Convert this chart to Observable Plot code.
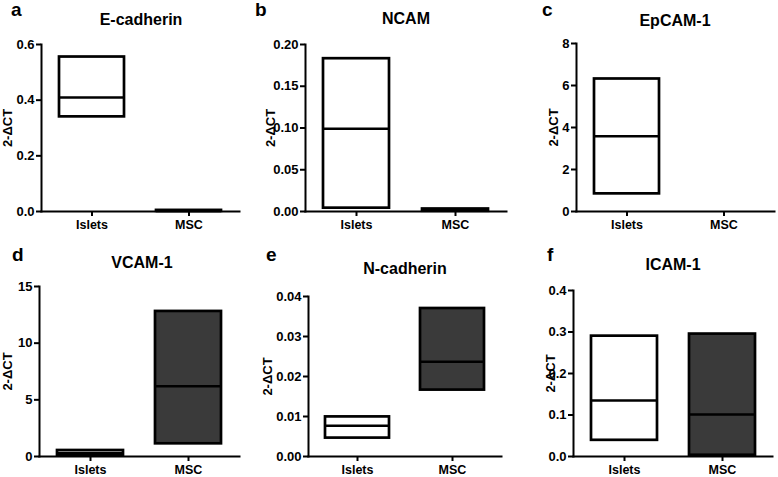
<!DOCTYPE html>
<html><head><meta charset="utf-8">
<script src="https://cdn.jsdelivr.net/npm/d3@7"></script>
<script src="https://cdn.jsdelivr.net/npm/@observablehq/plot@0.6"></script>
<style>
body{margin:0;background:#fff;font-family:"Liberation Sans",Arial,sans-serif;}
#root{position:relative;width:778px;height:477px;overflow:hidden;background:#fff;}
.title{position:absolute;font-weight:bold;font-size:16px;line-height:1;transform:translateX(-50%);white-space:nowrap;color:#000;}
.letter{position:absolute;font-weight:bold;font-size:19px;line-height:1.05;color:#000;}
</style></head><body><div id="root"></div>
<script>
// ---- data ----
const groups = ["Islets", "MSC"];
const genes = ["E-cadherin", "NCAM", "EpCAM-1", "VCAM-1", "N-cadherin", "ICAM-1"];
const letters = ["a", "b", "c", "d", "e", "f"];
const isletsMin    = [0.34, 0.004, 0.84, 0.10, 0.0046, 0.039];
const isletsMedian = [0.41, 0.099, 3.58, 0.30, 0.0077, 0.135];
const isletsMax    = [0.555, 0.183, 6.31, 0.53, 0.0099, 0.290];
const mscMin    = [0.0005, 0.0003, null, 1.12, 0.0166, 0.003];
const mscMedian = [0.002, 0.0015, null, 6.2, 0.0237, 0.101];
const mscMax    = [0.004, 0.003, null, 12.8, 0.037, 0.295];
const yMax = [0.6, 0.2, 8, 15, 0.04, 0.4];
const yTicks = [[0,0.2,0.4,0.6],[0,0.05,0.1,0.15,0.2],[0,2,4,6,8],[0,5,10,15],[0,0.01,0.02,0.03,0.04],[0,0.1,0.2,0.3,0.4]];
const tickDecimals = [1, 2, 0, 0, 2, 1];
const yLabel = "2-ΔCT";

// ---- layout ----
const layout = [
  {left:0,   top:0,   w:259, h:235, mL:41, mR:20, mT:44, mB:24, lo:39, tx:141, ty:19.5, lx:11,  ly:0},
  {left:259, top:0,   w:259, h:235, mL:46, mR:12, mT:44, mB:24, lo:40, tx:406, ty:19,   lx:255, ly:0},
  {left:518, top:0,   w:260, h:235, mL:58, mR:4,  mT:43, mB:24, lo:28, tx:675, ty:20.5, lx:542, ly:0},
  {left:0,   top:235, w:259, h:242, mL:39, mR:20, mT:51, mB:21, lo:37, tx:142, ty:263,  lx:12,  ly:245},
  {left:259, top:235, w:259, h:242, mL:49, mR:17, mT:61, mB:21, lo:46, tx:405, ty:269,  lx:266, ly:245},
  {left:518, top:235, w:260, h:242, mL:55, mR:6,  mT:55, mB:21, lo:28, tx:673, ty:265,  lx:547, ly:245}
];

const root = document.getElementById("root");
genes.forEach((gene, i) => {
  const L = layout[i];
  const rows = [
    {group: groups[0], min: isletsMin[i], median: isletsMedian[i], max: isletsMax[i]},
    {group: groups[1], min: mscMin[i], median: mscMedian[i], max: mscMax[i]}
  ].filter(d => d.min != null);
  const svg = Plot.plot({
    width: L.w, height: L.h,
    marginLeft: L.mL, marginRight: L.mR, marginTop: L.mT, marginBottom: L.mB,
    style: {fontFamily: "Liberation Sans, Arial, sans-serif", fontSize: "12.5px", fontWeight: "bold", color: "#000", background: "transparent", overflow: "visible"},
    x: {type: "band", domain: groups, paddingInner: 0.33, paddingOuter: 0.18, align: 0.5, axis: null},
    y: {domain: [0, yMax[i]], axis: null},
    color: {domain: groups, range: ["#ffffff", "#3a3a3a"]},
    marks: [
      Plot.barY(rows, {x: "group", y1: "min", y2: "max", fill: "group", stroke: "#000", strokeWidth: 2.7, inset: 0}),
      Plot.tickY(rows, {x: "group", y: "median", stroke: "#000", strokeWidth: 2.5}),
      Plot.frame({anchor: "left", stroke: "#000", strokeWidth: 2}),
      Plot.frame({anchor: "bottom", stroke: "#000", strokeWidth: 2}),
      Plot.axisY({ticks: yTicks[i], tickFormat: d3.format(`.${tickDecimals[i]}f`), tickSize: 5, tickPadding: 2, strokeWidth: 2,
        label: yLabel, labelAnchor: "center", labelArrow: "none", labelOffset: L.lo, fontSize: 13}),
      Plot.axisX({tickSize: 5, tickPadding: 4, strokeWidth: 2, label: null})
    ]
  });
  svg.style.position = "absolute";
  svg.style.left = L.left + "px";
  svg.style.top = L.top + "px";
  root.appendChild(svg);
  const t = document.createElement("div");
  t.className = "title"; t.textContent = gene;
  t.style.left = L.tx + "px"; t.style.top = (L.ty - 8) + "px";
  root.appendChild(t);
  const l = document.createElement("div");
  l.className = "letter"; l.textContent = letters[i];
  l.style.left = L.lx + "px"; l.style.top = L.ly + "px";
  root.appendChild(l);
});
</script></body></html>
